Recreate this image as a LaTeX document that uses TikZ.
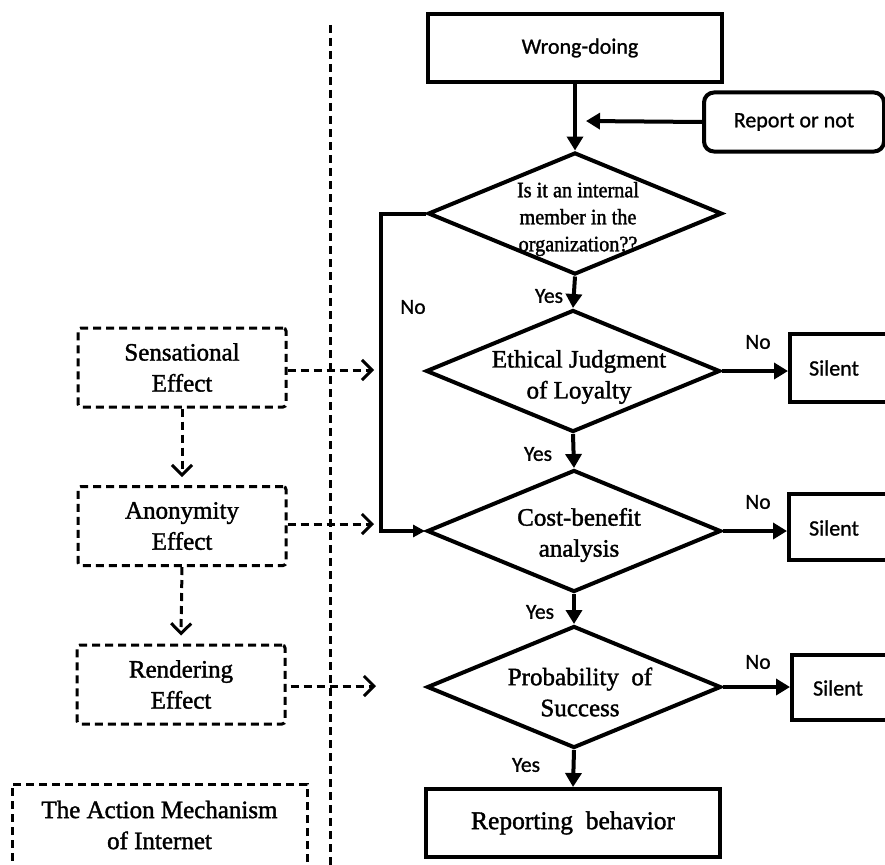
\documentclass[tikz,border=0pt]{standalone}
\usepackage{fontspec}
\setmainfont{Liberation Serif}[FakeBold=1.5]
\newfontfamily\sansf{Carlito}[FakeBold=1]
\newfontfamily\condf{Liberation Serif}[FakeBold=1.5,FakeStretch=0.92]
\usetikzlibrary{shapes.geometric,arrows.meta}
\begin{document}
\begin{tikzpicture}[x=1pt,y=-1pt,
  thickbox/.style={draw,line width=4pt,minimum width=#1,minimum height=68pt,inner sep=0pt},
  thickbox/.default=294pt,
  dbox/.style={draw,line width=3pt,dash pattern=on 8pt off 5pt,rounded corners=3pt,minimum width=208pt,minimum height=79pt,inner sep=0pt},
  dia/.style={draw,diamond,line width=4pt,minimum width=294pt,minimum height=122pt,inner sep=0pt},
  sf/.style={font=\sansf\fontsize{22}{26}\selectfont},
  sl/.style={font=\sansf\fontsize{22}{26}\selectfont},
  srf/.style={font=\fontsize{25}{31}\selectfont,align=center},
  arr/.style={line width=4pt,-{Triangle[length=14pt,width=16pt]}},
  darr/.style={line width=3pt,dash pattern=on 8pt off 5pt,-{Straight Barb[length=10pt,width=20pt,line width=3pt]}},
  lbl/.style={font=\sansf\fontsize{21.5}{24}\selectfont,inner sep=0pt}
]
\clip (0,0) rectangle (885,864);
\fill[white] (0,0) rectangle (885,864);
% separator
\coordinate (sepT) at (330,25);
\coordinate (sepB) at (330,870);
\draw[line width=3pt,dash pattern=on 8pt off 5pt] (sepT) -- (sepB);
% main boxes
\node[thickbox] (wd) at (575,48) {};
\node[sf] (wdt) at (580,48) {Wrong-doing};
\node[draw,line width=4pt,rounded corners=10pt,minimum width=180pt,minimum height=59pt,inner sep=0pt,sf] (rep) at (794,122) {Report or not};
\coordinate (repend) at (586,121);
\node[dia] (d1) at (575,213.5) {};
\node[font=\condf\fontsize{22}{27}\selectfont,align=center,inner sep=0pt] (d1t) at (578,219) {Is it an internal\\member in the\\organization??};
\node[dia] (d2) at (573,371) {};
\node[srf,inner sep=0pt] (d2t) at (579,377) {Ethical\ Judgment\\of Loyalty};
\node[dia] (d3) at (574,531) {};
\node[srf,inner sep=0pt] (d3t) at (579,535) {Cost-benefit\\analysis};
\node[dia] (d4) at (574,687) {};
\node[srf,inner sep=0pt] (d4t) at (580,692) {Probability\ \ of\\Success};
\node[thickbox,font=\fontsize{25.5}{28}\selectfont] (rb) at (573,823) {Reporting\ \ behavior};
% silent boxes
\node[draw,line width=4pt,minimum width=130pt,minimum height=68pt,inner sep=0pt] (s1) at (855,368) {};
\node[sl] (s1t) at (834,368) {Silent};
\node[draw,line width=4pt,minimum width=130pt,minimum height=66pt,inner sep=0pt] (s2) at (854,527) {};
\node[sl] (s2t) at (834,528) {Silent};
\node[draw,line width=4pt,minimum width=130pt,minimum height=65pt,inner sep=0pt] (s3) at (857,687.5) {};
\node[sl] (s3t) at (838,688) {Silent};
% connectors
\draw[arr] (wd.south) -- (d1.north);
\draw[arr] (rep.west) -- (repend);
\draw[arr] (d1.south) -- (d2.north);
\draw[arr] (d2.south) -- (d3.north);
\draw[arr] (d3.south) -- (d4.north);
\draw[arr] (d4.south) -- (rb.north);
\draw[arr] (d2.east) -- (d2.east -| s1.west);
\draw[arr] (d3.east) -- (d3.east -| s2.west);
\draw[arr] (d4.east) -- (d4.east -| s3.west);
\coordinate (lp1) at (381,213.5);
\coordinate (lp2) at (381,531);
\draw[line width=4pt,-{Triangle[length=12pt,width=12pt]}] (d1.west) -- (lp1) -- (lp2) -- (d3.west);
% labels
\node[lbl] (y1) at (549,296) {Yes};
\node[lbl] (y2) at (538,454) {Yes};
\node[lbl] (y3) at (540,612) {Yes};
\node[lbl] (y4) at (526,765) {Yes};
\node[lbl] (n0) at (413,307) {No};
\node[lbl] (n1) at (758,342) {No};
\node[lbl] (n2) at (758,502) {No};
\node[lbl] (n3) at (758,662) {No};
% left side
\node[dbox,srf] (se) at (182,367.5) {Sensational\\Effect};
\node[dbox,srf] (ae) at (182,526) {Anonymity\\Effect};
\node[dbox,srf] (re) at (181,684.5) {Rendering\\Effect};
\node[draw,line width=3pt,dash pattern=on 8pt off 5pt,minimum width=295pt,minimum height=82pt,inner sep=0pt,srf] (am) at (159.5,825) {The\ Action\ Mechanism\\of Internet};
\coordinate (a1) at (374,370);
\coordinate (a2) at (374,524);
\coordinate (a3) at (376,686);
\draw[darr] (se.east |- a1) -- (a1);
\draw[darr] (ae.east |- a2) -- (a2);
\draw[darr] ([xshift=4pt]re.east |- a3) -- (a3);
\draw[darr] (se.south) -- ([yshift=8pt]ae.north);
\draw[darr] (ae.south) -- ([yshift=8pt]re.north);
\end{tikzpicture}
\end{document}
